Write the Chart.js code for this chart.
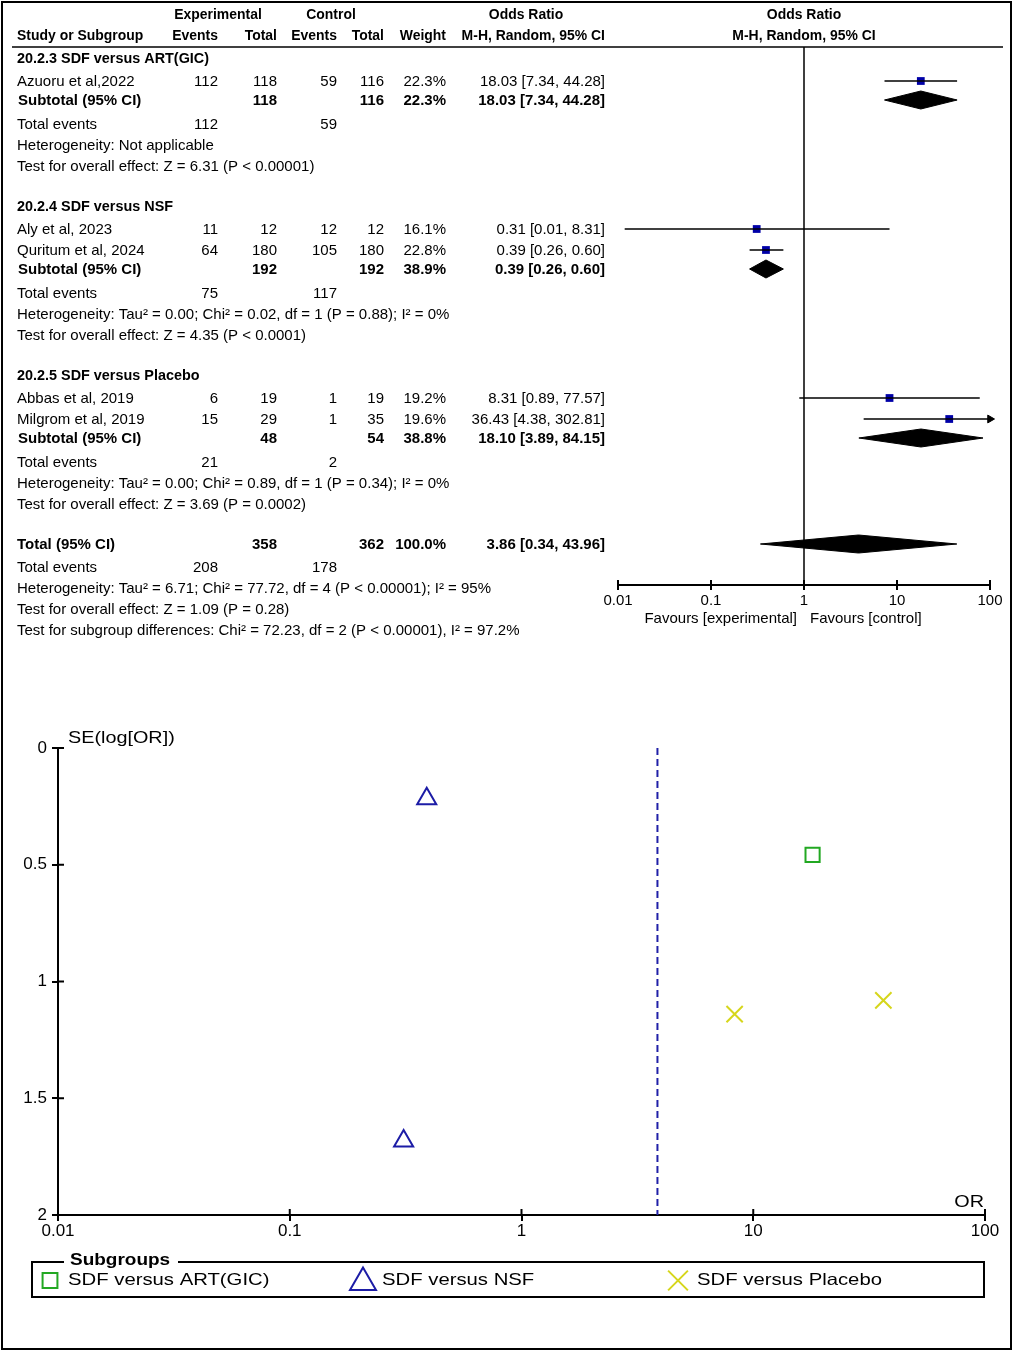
<!DOCTYPE html>
<html>
<head>
<meta charset="utf-8">
<title>Forest and funnel plot</title>
<script src="https://cdn.jsdelivr.net/npm/chart.js@4.4.0/dist/chart.umd.min.js"></script>
<style>
body { margin: 0; background: #fff; }
#frame { position: absolute; left: 1px; top: 1px; width: 1011px; height: 1349px; border: 2px solid #000; box-sizing: border-box; pointer-events: none; }
#forest { position: absolute; left: 0; top: 0; }
#funnel { position: absolute; left: 0; top: 680px; }
</style>
</head>
<body>
<canvas id="forest" width="1015" height="660"></canvas>
<canvas id="funnel" width="1015" height="673"></canvas>
<div id="frame"></div>
<script>
// studies
const studyNames = ['Azuoru et al,2022', 'Aly et al, 2023', 'Quritum et al, 2024', 'Abbas et al, 2019', 'Milgrom et al, 2019'];
const studyGroup = [0, 1, 1, 2, 2];
const expEvents = [112, 11, 64, 6, 15];
const expTotal = [118, 12, 180, 19, 29];
const ctrlEvents = [59, 12, 105, 1, 1];
const ctrlTotal = [116, 12, 180, 19, 35];
const studyWeight = [22.3, 16.1, 22.8, 19.2, 19.6];
const studyOR = [18.03, 0.31, 0.39, 8.31, 36.43];
const studyLo = [7.34, 0.0118, 0.26, 0.89, 4.38];
const studyHi = [44.28, 8.31, 0.60, 77.57, 302.81];
const studySE = [0.458, 1.683, 0.217, 1.140, 1.081];

// subgroups
const groupCodes = ['20.2.3', '20.2.4', '20.2.5'];
const groupNames = ['SDF versus ART(GIC)', 'SDF versus NSF', 'SDF versus Placebo'];
const groupExpTotal = [118, 192, 48];
const groupCtrlTotal = [116, 192, 54];
const groupExpEvents = [112, 75, 21];
const groupCtrlEvents = [59, 117, 2];
const groupWeight = [22.3, 38.9, 38.8];
const groupOR = [18.03, 0.39, 18.10];
const groupLo = [7.34, 0.26, 3.89];
const groupHi = [44.28, 0.60, 84.15];
const groupHetero = ['Not applicable', 'Tau\u00b2 = 0.00; Chi\u00b2 = 0.02, df = 1 (P = 0.88); I\u00b2 = 0%', 'Tau\u00b2 = 0.00; Chi\u00b2 = 0.89, df = 1 (P = 0.34); I\u00b2 = 0%'];
const groupEffect = ['Z = 6.31 (P < 0.00001)', 'Z = 4.35 (P < 0.0001)', 'Z = 3.69 (P = 0.0002)'];

// overall
const totalCounts = [358, 362];
const totalEvents = [208, 178];
const totalWeight = 100.0;
const totalOR = [3.86, 0.34, 43.96];
const totalHetero = 'Tau\u00b2 = 6.71; Chi\u00b2 = 77.72, df = 4 (P < 0.00001); I\u00b2 = 95%';
const totalEffect = 'Z = 1.09 (P = 0.28)';
const subgroupTest = 'Chi\u00b2 = 72.23, df = 2 (P < 0.00001), I\u00b2 = 97.2%';

const orTicks = [0.01, 0.1, 1, 10, 100];
const seTicks = [0, 0.5, 1, 1.5, 2];

// ---------- row layout of the forest table ----------
var rows = [];
var rowY = 18;
function addRow(step, row) {
    rowY += step;
    row.y = rowY;
    rows.push(row);
}
groupNames.forEach(function (name, g) {
    addRow(40, { type: 'group', g: g });
    var first = true;
    studyNames.forEach(function (s, i) {
        if (studyGroup[i] !== g) return;
        addRow(first ? 23 : 21, { type: 'study', i: i });
        first = false;
    });
    addRow(19, { type: 'subtotal', g: g });
    addRow(24, { type: 'events', g: g });
    addRow(21, { type: 'hetero', g: g });
    addRow(21, { type: 'effect', g: g });
});
addRow(40, { type: 'total' });
addRow(23, { type: 'totalEvents' });
addRow(21, { type: 'totalHetero' });
addRow(21, { type: 'totalEffect' });
addRow(21, { type: 'subgroupTest' });

const FONT = '"Liberation Sans", Arial, sans-serif';
function txt(ctx, s, x, y, align, bold, size, sx) {
    ctx.save();
    ctx.translate(x, y);
    ctx.scale(sx || 1, 1);
    ctx.font = (bold ? 'bold ' : '') + size + 'px ' + FONT;
    ctx.textAlign = align;
    ctx.textBaseline = 'middle';
    ctx.fillStyle = '#000';
    ctx.fillText(s, 0, 0);
    ctx.restore();
}
function ciText(or, lo, hi) {
    return or.toFixed(2) + ' [' + lo.toFixed(2) + ', ' + hi.toFixed(2) + ']';
}

const colLabel = 17;
const colRight = [218, 277, 337, 384, 446, 605];
const TS = 15;
const HS = 0.93; // header squeeze

var forestText = {
    id: 'forestText',
    afterDraw: function (chart) {
        var ctx = chart.ctx;
        var xs = chart.scales.x, ys = chart.scales.y;
        // header
        txt(ctx, 'Experimental', 218, 15, 'center', true, TS, HS);
        txt(ctx, 'Control', 331, 15, 'center', true, TS, HS);
        txt(ctx, 'Odds Ratio', 526, 15, 'center', true, TS, HS);
        txt(ctx, 'Odds Ratio', 804, 15, 'center', true, TS, HS);
        txt(ctx, 'Study or Subgroup', colLabel, 36, 'left', true, TS, HS);
        ['Events', 'Total', 'Events', 'Total', 'Weight', 'M-H, Random, 95% CI'].forEach(function (h, k) {
            txt(ctx, h, colRight[k], 36, 'right', true, TS, HS);
        });
        txt(ctx, 'M-H, Random, 95% CI', 804, 36, 'center', true, TS, HS);
        ctx.save();
        ctx.strokeStyle = '#000';
        ctx.lineWidth = 1.5;
        ctx.beginPath();
        ctx.moveTo(12, 47);
        ctx.lineTo(1003, 47);
        ctx.stroke();
        ctx.restore();

        rows.forEach(function (r) {
            var y = ys.getPixelForValue(r.y) + 1;
            var g = r.g, i = r.i;
            if (r.type === 'group') {
                txt(ctx, groupCodes[g] + ' ' + groupNames[g], colLabel, y, 'left', true, TS, 0.96);
            } else if (r.type === 'study') {
                txt(ctx, studyNames[i], colLabel, y, 'left', false, TS);
                txt(ctx, String(expEvents[i]), colRight[0], y, 'right', false, TS);
                txt(ctx, String(expTotal[i]), colRight[1], y, 'right', false, TS);
                txt(ctx, String(ctrlEvents[i]), colRight[2], y, 'right', false, TS);
                txt(ctx, String(ctrlTotal[i]), colRight[3], y, 'right', false, TS);
                txt(ctx, studyWeight[i].toFixed(1) + '%', colRight[4], y, 'right', false, TS);
                txt(ctx, ciText(studyOR[i], studyLo[i], studyHi[i]), colRight[5], y, 'right', false, TS);
            } else if (r.type === 'subtotal') {
                txt(ctx, 'Subtotal (95% CI)', colLabel + 1, y, 'left', true, TS);
                txt(ctx, String(groupExpTotal[g]), colRight[1], y, 'right', true, TS);
                txt(ctx, String(groupCtrlTotal[g]), colRight[3], y, 'right', true, TS);
                txt(ctx, groupWeight[g].toFixed(1) + '%', colRight[4], y, 'right', true, TS);
                txt(ctx, ciText(groupOR[g], groupLo[g], groupHi[g]), colRight[5], y, 'right', true, TS);
            } else if (r.type === 'events') {
                txt(ctx, 'Total events', colLabel, y, 'left', false, TS);
                txt(ctx, String(groupExpEvents[g]), colRight[0], y, 'right', false, TS);
                txt(ctx, String(groupCtrlEvents[g]), colRight[2], y, 'right', false, TS);
            } else if (r.type === 'hetero') {
                txt(ctx, 'Heterogeneity: ' + groupHetero[g], colLabel, y, 'left', false, TS);
            } else if (r.type === 'effect') {
                txt(ctx, 'Test for overall effect: ' + groupEffect[g], colLabel, y, 'left', false, TS);
            } else if (r.type === 'total') {
                txt(ctx, 'Total (95% CI)', colLabel, y, 'left', true, TS);
                txt(ctx, String(totalCounts[0]), colRight[1], y, 'right', true, TS);
                txt(ctx, String(totalCounts[1]), colRight[3], y, 'right', true, TS);
                txt(ctx, totalWeight.toFixed(1) + '%', colRight[4], y, 'right', true, TS);
                txt(ctx, ciText(totalOR[0], totalOR[1], totalOR[2]), colRight[5], y, 'right', true, TS);
            } else if (r.type === 'totalEvents') {
                txt(ctx, 'Total events', colLabel, y, 'left', false, TS);
                txt(ctx, String(totalEvents[0]), colRight[0], y, 'right', false, TS);
                txt(ctx, String(totalEvents[1]), colRight[2], y, 'right', false, TS);
            } else if (r.type === 'totalHetero') {
                txt(ctx, 'Heterogeneity: ' + totalHetero, colLabel, y, 'left', false, TS);
            } else if (r.type === 'totalEffect') {
                txt(ctx, 'Test for overall effect: ' + totalEffect, colLabel, y, 'left', false, TS);
            } else if (r.type === 'subgroupTest') {
                txt(ctx, 'Test for subgroup differences: ' + subgroupTest, colLabel, y, 'left', false, TS);
            }
        });

        // tick marks also go above the axis
        var axisY = chart.chartArea.bottom;
        ctx.save();
        ctx.strokeStyle = '#000';
        ctx.lineWidth = 2;
        orTicks.forEach(function (v) {
            var x = xs.getPixelForValue(v);
            ctx.beginPath();
            ctx.moveTo(x, axisY - 5);
            ctx.lineTo(x, axisY);
            ctx.stroke();
        });
        ctx.restore();
        var one = xs.getPixelForValue(1);
        txt(ctx, 'Favours [experimental]', one - 7, axisY + 34, 'right', false, 15);
        txt(ctx, 'Favours [control]', one + 6, axisY + 34, 'left', false, 15);
    }
};

// ---------- forest datasets ----------
var forestSets = [];
forestSets.push({
    type: 'line',
    data: [{ x: 1, y: 47 }, { x: 1, y: 585 }],
    borderColor: '#000', borderWidth: 1.5, pointRadius: 0
});
studyNames.forEach(function (s, i) {
    var row = rows.find(function (r) { return r.type === 'study' && r.i === i; });
    forestSets.push({
        type: 'line',
        data: [{ x: studyLo[i], y: row.y }, { x: Math.min(studyHi[i], 100), y: row.y }],
        borderColor: '#000', borderWidth: 1.5, pointRadius: 0
    });
});
forestSets.push({
    type: 'scatter',
    data: rows.filter(function (r) { return r.type === 'study'; }).map(function (r) { return { x: studyOR[r.i], y: r.y }; }),
    pointStyle: 'rect', pointRadius: 5.5, backgroundColor: '#0000a8', borderWidth: 0
});
forestSets.push({
    type: 'scatter',
    clip: false,
    data: rows.filter(function (r) { return r.type === 'study' && studyHi[r.i] > 100; }).map(function (r) { return { x: 100, y: r.y }; }),
    pointStyle: 'triangle', rotation: 90, pointRadius: 4.5, backgroundColor: '#000', borderColor: '#000', borderWidth: 1
});
function diamond(or, lo, hi, y) {
    var h = 9;
    return {
        type: 'line',
        data: [{ x: lo, y: y }, { x: or, y: y - h }, { x: hi, y: y }, { x: or, y: y + h }, { x: lo, y: y }],
        borderColor: '#000', borderWidth: 1, backgroundColor: '#000', fill: 'shape', pointRadius: 0
    };
}
rows.forEach(function (r) {
    if (r.type === 'subtotal') forestSets.push(diamond(groupOR[r.g], groupLo[r.g], groupHi[r.g], r.y));
    if (r.type === 'total') forestSets.push(diamond(totalOR[0], totalOR[1], totalOR[2], r.y));
});

new Chart(document.getElementById('forest'), {
    type: 'scatter',
    data: { datasets: forestSets },
    options: {
        responsive: false,
        animation: false,
        layout: { padding: { left: 618, right: 25, top: 47, bottom: 35 } },
        plugins: { legend: { display: false }, tooltip: { enabled: false } },
        scales: {
            x: {
                type: 'logarithmic', min: 0.01, max: 100,
                afterBuildTicks: function (s) { s.ticks = orTicks.map(function (v) { return { value: v }; }); },
                afterFit: function (s) { s.height = 40; },
                ticks: { callback: function (v) { return String(v); }, color: '#000', font: { family: FONT, size: 15 }, padding: 2, maxRotation: 0 },
                grid: { drawOnChartArea: false, tickLength: 5, color: '#000', lineWidth: 2 },
                border: { color: '#000', width: 2 }
            },
            y: { display: false, min: 47, max: 585, reverse: true }
        }
    },
    plugins: [forestText]
});

// ---------- funnel plot ----------
const groupStyles = [
    { pointStyle: 'rect', radius: 10, color: '#22a822' },
    { pointStyle: 'triangle', radius: 11, color: '#1c1ca6' },
    { pointStyle: 'crossRot', radius: 11.5, color: '#d6d61c' }
];
const legendStyles = [
    { pointStyle: 'rect', radius: 10.5, x: 50 },
    { pointStyle: 'triangle', radius: 15, x: 363 },
    { pointStyle: 'crossRot', radius: 14, x: 678 }
];

var funnelSets = [{
    type: 'line',
    data: [{ x: totalOR[0], y: 0 }, { x: totalOR[0], y: 2 }],
    borderColor: '#2020a8', borderWidth: 2, borderDash: [7, 4], pointRadius: 0
}];
groupNames.forEach(function (name, g) {
    var st = groupStyles[g];
    funnelSets.push({
        type: 'scatter',
        label: name,
        data: studyOR.map(function (v, i) { return { x: v, y: studySE[i], g: studyGroup[i] }; })
            .filter(function (p) { return p.g === g; }),
        pointStyle: st.pointStyle, pointRadius: st.radius,
        borderColor: st.color, backgroundColor: 'rgba(0,0,0,0)', borderWidth: 2
    });
});

function drawMarker(ctx, style, radius, x, y) {
    if (Chart.helpers && Chart.helpers.drawPoint) {
        Chart.helpers.drawPoint(ctx, { pointStyle: style, radius: radius, rotation: 0, borderWidth: 2 }, x, y);
    }
}

var funnelExtras = {
    id: 'funnelExtras',
    afterDraw: function (chart) {
        var ctx = chart.ctx, ca = chart.chartArea;
        var xs = chart.scales.x, ys = chart.scales.y;
        ctx.save();
        ctx.strokeStyle = '#000';
        ctx.lineWidth = 2;
        seTicks.forEach(function (v) {
            var y = ys.getPixelForValue(v);
            ctx.beginPath(); ctx.moveTo(ca.left, y); ctx.lineTo(ca.left + 6, y); ctx.stroke();
        });
        orTicks.forEach(function (v) {
            var x = xs.getPixelForValue(v);
            ctx.beginPath(); ctx.moveTo(x, ca.bottom - 6); ctx.lineTo(x, ca.bottom); ctx.stroke();
        });
        ctx.restore();
        txt(ctx, 'SE(log[OR])', ca.left + 10, ca.top - 10, 'left', false, 16.5, 1.2);
        txt(ctx, 'OR', ca.right - 1, ca.bottom - 13, 'right', false, 16.5, 1.2);

        // legend box
        var top = 582, bottom = 617, left = 32, right = 984;
        ctx.save();
        ctx.strokeStyle = '#000';
        ctx.lineWidth = 2;
        ctx.strokeRect(left, top, right - left, bottom - top);
        ctx.fillStyle = '#fff';
        ctx.fillRect(64, top - 3, 114, 6);
        ctx.restore();
        txt(ctx, 'Subgroups', 70, top - 2, 'left', true, 16.5, 1.15);
        var ly = (top + bottom) / 2 + 1;
        chart.data.datasets.forEach(function (ds) {
            if (!ds.label) return;
            var g = groupNames.indexOf(ds.label);
            var ls = legendStyles[g];
            ctx.save();
            ctx.strokeStyle = ds.borderColor;
            ctx.fillStyle = 'rgba(0,0,0,0)';
            ctx.lineWidth = 2;
            drawMarker(ctx, ls.pointStyle, ls.radius, ls.x, ly + (ls.pointStyle === 'triangle' ? 2 : 0));
            ctx.restore();
            txt(ctx, ds.label, ls.x + (g === 0 ? 18 : 19), ly, 'left', false, 16.5, 1.23);
        });
    }
};

new Chart(document.getElementById('funnel'), {
    type: 'scatter',
    data: { datasets: funnelSets },
    options: {
        responsive: false,
        animation: false,
        layout: { padding: { left: 0, right: 30, top: 68, bottom: 98 } },
        plugins: { legend: { display: false }, tooltip: { enabled: false } },
        scales: {
            x: {
                type: 'logarithmic', min: 0.01, max: 100,
                afterBuildTicks: function (s) { s.ticks = orTicks.map(function (v) { return { value: v }; }); },
                afterFit: function (s) { s.height = 40; },
                ticks: { callback: function (v) { return String(v); }, color: '#000', font: { family: FONT, size: 17 }, padding: 0, maxRotation: 0 },
                grid: { drawOnChartArea: false, tickLength: 6, color: '#000', lineWidth: 2 },
                border: { color: '#000', width: 2 }
            },
            y: {
                min: 0, max: 2, reverse: true,
                afterBuildTicks: function (s) { s.ticks = seTicks.map(function (v) { return { value: v }; }); },
                afterFit: function (s) { s.width = 58; },
                ticks: { callback: function (v) { return String(v); }, color: '#000', font: { family: FONT, size: 17 }, padding: 5 },
                grid: { drawOnChartArea: false, tickLength: 6, color: '#000', lineWidth: 2 },
                border: { color: '#000', width: 2 }
            }
        }
    },
    plugins: [funnelExtras]
});
</script>
</body>
</html>
